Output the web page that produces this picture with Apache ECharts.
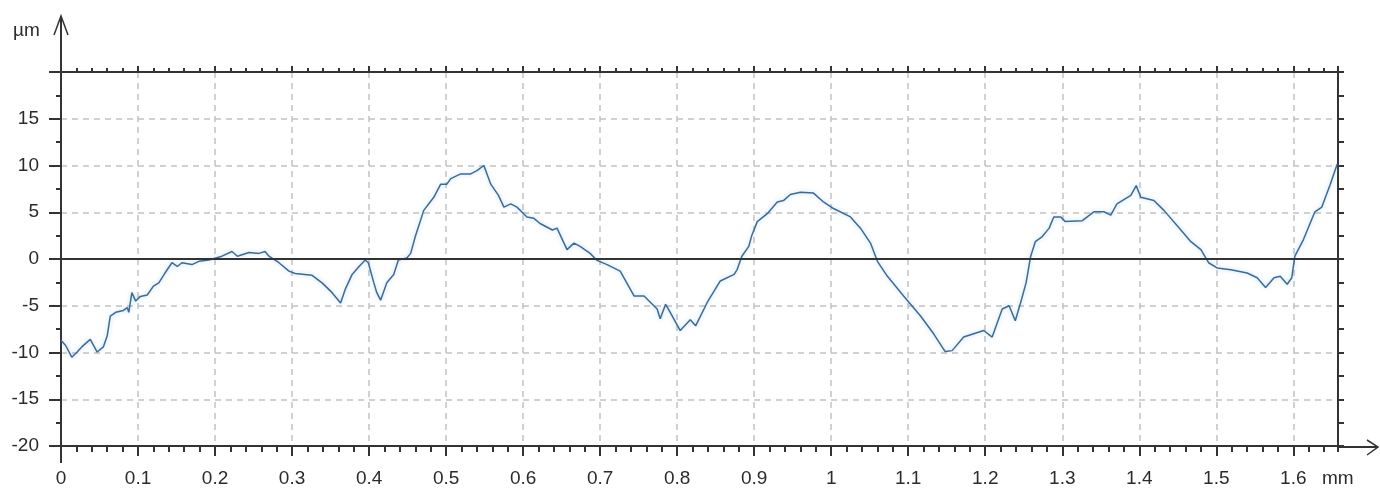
<!DOCTYPE html>
<html>
<head>
<meta charset="utf-8">
<script src="https://cdn.jsdelivr.net/npm/echarts@6/dist/echarts.min.js"></script>
<style>
html,body{margin:0;padding:0;background:#fff;}
#chart{width:1380px;height:488px;}
</style>
</head>
<body>
<div id="chart"></div>
<script>
// Profile position (mm)
var positions = [
  0.000,0.006,0.014,0.021,0.027,0.038,0.047,0.055,0.060,0.064,
  0.071,0.081,0.086,0.088,0.092,0.097,0.103,0.112,0.120,0.127,
  0.135,0.144,0.151,0.157,0.170,0.179,0.192,0.209,0.222,0.229,
  0.244,0.257,0.265,0.270,0.283,0.296,0.304,0.326,0.339,0.352,
  0.363,0.369,0.378,0.387,0.395,0.399,0.406,0.410,0.415,0.423,
  0.432,0.438,0.449,0.454,0.460,0.471,0.484,0.493,0.501,0.506,
  0.519,0.532,0.540,0.549,0.558,0.568,0.575,0.584,0.592,0.605,
  0.614,0.622,0.638,0.644,0.657,0.666,0.674,0.687,0.696,0.709,
  0.726,0.744,0.757,0.774,0.778,0.785,0.791,0.804,0.817,0.824,
  0.839,0.856,0.874,0.878,0.884,0.893,0.897,0.904,0.917,0.930,
  0.938,0.947,0.960,0.977,0.990,1.003,1.025,1.038,1.051,1.060,
  1.073,1.094,1.116,1.133,1.148,1.157,1.172,1.185,1.198,1.209,
  1.222,1.231,1.239,1.246,1.253,1.259,1.265,1.274,1.283,1.289,
  1.298,1.304,1.326,1.341,1.354,1.363,1.371,1.389,1.396,1.402,
  1.419,1.432,1.454,1.467,1.480,1.490,1.501,1.519,1.540,1.553,
  1.564,1.575,1.583,1.592,1.598,1.602,1.613,1.628,1.637,1.648,
  1.657
];
// Profile height (µm)
var heights = [
  -8.7,-9.25,-10.5,-9.95,-9.4,-8.6,-9.95,-9.4,-8.2,-6.1,
  -5.7,-5.5,-5.2,-5.7,-3.6,-4.5,-4.0,-3.85,-2.9,-2.55,
  -1.5,-0.4,-0.8,-0.4,-0.6,-0.25,-0.1,0.3,0.8,0.3,
  0.7,0.6,0.8,0.3,-0.4,-1.3,-1.55,-1.75,-2.55,-3.6,
  -4.7,-3.25,-1.65,-0.8,-0.1,-0.4,-2.5,-3.6,-4.4,-2.55,
  -1.65,-0.1,0.1,0.6,2.4,5.2,6.6,8.0,8.0,8.6,
  9.1,9.1,9.45,10.0,8.0,6.8,5.55,5.9,5.55,4.5,
  4.35,3.8,3.1,3.3,1.0,1.7,1.35,0.6,-0.15,-0.6,
  -1.3,-3.95,-3.95,-5.35,-6.4,-4.85,-5.7,-7.65,-6.5,-7.15,
  -4.65,-2.35,-1.65,-1.1,0.3,1.35,2.55,4.0,4.85,6.1,
  6.25,6.9,7.15,7.05,6.1,5.4,4.5,3.3,1.7,-0.25,
  -1.85,-3.95,-6.1,-8.0,-9.9,-9.8,-8.35,-8.0,-7.65,-8.35,
  -5.35,-5.0,-6.6,-4.65,-2.55,0.3,1.85,2.4,3.3,4.5,
  4.5,4.0,4.1,5.05,5.05,4.7,5.9,6.8,7.85,6.6,
  6.25,5.2,3.1,1.85,1.0,-0.4,-0.95,-1.15,-1.5,-2.0,
  -3.05,-2.0,-1.85,-2.7,-2.0,0.3,2.05,5.05,5.55,8.0,
  10.15
];
var xMin = 0, xMax = 1.658, xMajor = 0.1, xMinor = 0.02;
var yMin = -20, yMax = 20, yMajor = 5, yMinor = 2.5;
var xUnit = 'mm', yUnit = 'µm';

var seriesData = positions.map(function (p, i) { return [p, heights[i]]; });

var FONT = 'Liberation Sans, Arial, sans-serif';
var FS = 19;
var AX = '#333333';
var TXT = '#2b2b2b';
var GRID = '#c2c2c2';

var chart = echarts.init(document.getElementById('chart'), null, {renderer: 'canvas'});
chart.setOption({
  animation: false,
  backgroundColor: '#ffffff',
  grid: {left: 61, right: 42, top: 72, bottom: 41, containLabel: false},
  xAxis: [
    {
      type: 'value', position: 'bottom', min: xMin, max: xMax, interval: xMajor,
      axisLine: {show: true, onZero: false, lineStyle: {color: AX, width: 2}},
      axisTick: {show: true, inside: false, length: 10, lineStyle: {color: AX, width: 2}},
      axisLabel: {
        show: true, margin: 23, showMaxLabel: false,
        color: TXT, fontFamily: FONT, fontSize: FS,
        formatter: function (v) { return String(Math.round(v * 10) / 10); }
      },
      splitLine: {show: true, lineStyle: {color: GRID, width: 1.5, type: [6, 5]}},
      name: xUnit, nameLocation: 'end', nameGap: -16,
      nameTextStyle: {color: TXT, fontFamily: FONT, fontSize: FS, verticalAlign: 'top', align: 'left', padding: [23, 0, 0, 0]}
    },
    {
      type: 'value', position: 'bottom', min: xMin, max: xMax, interval: xMinor,
      axisLine: {show: false, onZero: false},
      axisTick: {show: true, inside: false, length: 6, lineStyle: {color: AX, width: 2}},
      axisLabel: {show: false}, splitLine: {show: false}
    },
    {
      type: 'value', position: 'top', min: xMin, max: xMax, interval: xMajor,
      axisLine: {show: true, onZero: false, lineStyle: {color: AX, width: 2}},
      axisTick: {show: true, inside: false, length: 6, lineStyle: {color: AX, width: 2}},
      axisLabel: {show: false}, splitLine: {show: false}
    },
    {
      type: 'value', position: 'top', min: xMin, max: xMax, interval: xMinor,
      axisLine: {show: false, onZero: false},
      axisTick: {show: true, inside: false, length: 4, lineStyle: {color: AX, width: 2}},
      axisLabel: {show: false}, splitLine: {show: false}
    }
  ],
  yAxis: [
    {
      type: 'value', position: 'left', min: yMin, max: yMax, interval: yMajor,
      axisLine: {show: true, onZero: false, lineStyle: {color: AX, width: 2}},
      axisTick: {show: true, inside: false, length: 12, lineStyle: {color: AX, width: 2}},
      minorTick: {show: true, splitNumber: 2, length: 5, lineStyle: {color: AX, width: 2}},
      axisLabel: {
        show: true, margin: 22, showMaxLabel: false,
        color: TXT, fontFamily: FONT, fontSize: FS
      },
      splitLine: {show: true, lineStyle: {color: GRID, width: 1.5, type: [6, 5]}}
    },
    {
      type: 'value', position: 'right', min: yMin, max: yMax, interval: yMinor,
      axisLine: {show: true, onZero: false, lineStyle: {color: AX, width: 2}},
      axisTick: {show: true, inside: false, length: 6, lineStyle: {color: AX, width: 2}},
      axisLabel: {show: false}, splitLine: {show: false}
    }
  ],
  graphic: [
    {type: 'text', left: 13, top: 21, style: {text: yUnit, fill: TXT, font: FS + 'px ' + FONT}},
    {type: 'polyline', silent: true, shape: {points: [[61, 72], [61, 16]]}, style: {stroke: AX, lineWidth: 2, fill: null}},
    {type: 'polyline', silent: true, shape: {points: [[54, 35], [61, 16], [68, 35]]}, style: {stroke: AX, lineWidth: 1.5, fill: null}},
    {type: 'polyline', silent: true, shape: {points: [[61, 447], [61, 463]]}, style: {stroke: AX, lineWidth: 2, fill: null}},
    {type: 'polyline', silent: true, shape: {points: [[1338, 447], [1378, 447]]}, style: {stroke: AX, lineWidth: 2, fill: null}},
    {type: 'polyline', silent: true, shape: {points: [[1367, 440], [1378, 447], [1367, 455]]}, style: {stroke: AX, lineWidth: 1.5, fill: null}}
  ],
  series: [
    {
      type: 'line', xAxisIndex: 0, yAxisIndex: 0,
      data: seriesData, showSymbol: false, symbol: 'none', smooth: false,
      lineStyle: {color: '#3b6c99', width: 1.5, shadowColor: 'rgba(120,175,225,0.5)', shadowBlur: 4},
      markLine: {
        silent: true, symbol: ['none', 'none'], label: {show: false},
        lineStyle: {color: '#333', width: 2, type: 'solid'},
        data: [{yAxis: 0}]
      },
      z: 3
    }
  ]
});
</script>
</body>
</html>
